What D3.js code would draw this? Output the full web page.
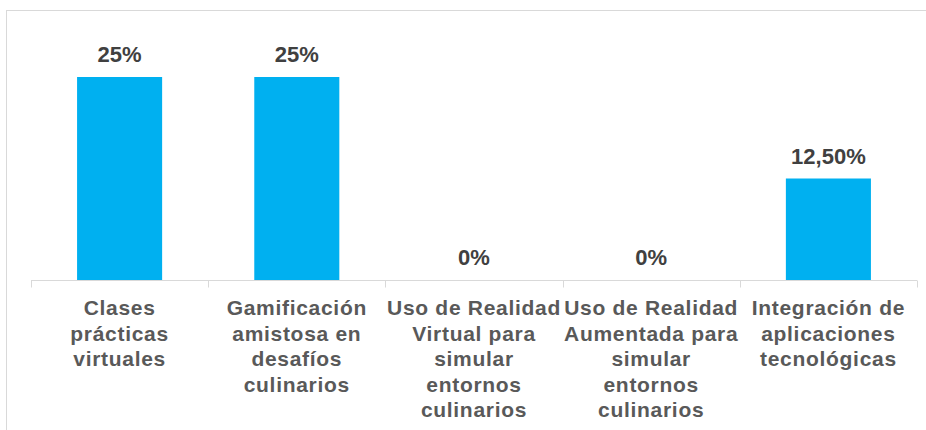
<!DOCTYPE html>
<html><head><meta charset="utf-8">
<script src="https://cdn.jsdelivr.net/npm/d3@7"></script>
<style>html,body{margin:0;padding:0;background:#fff;}svg{display:block;}</style>
</head><body>
<svg id="chart" width="926" height="430"></svg>
<script>
const categories = [
  ["Clases", "prácticas", "virtuales"],
  ["Gamificación", "amistosa en", "desafíos", "culinarios"],
  ["Uso de Realidad", "Virtual para", "simular", "entornos", "culinarios"],
  ["Uso de Realidad", "Aumentada para", "simular", "entornos", "culinarios"],
  ["Integración de", "aplicaciones", "tecnológicas"]
];
const values = [25, 25, 0, 0, 12.5];
const valueLabels = ["25%", "25%", "0%", "0%", "12,50%"];

const svg = d3.select("#chart");
const font = "'Liberation Sans', Arial, sans-serif";

// frame
svg.append("rect").attr("x", 6.5).attr("y", 10.5).attr("width", 940).attr("height", 440)
  .attr("fill", "none").attr("stroke", "#d9d9d9").attr("stroke-width", 1);

const x = d3.scaleBand().domain(d3.range(categories.length)).range([31, 917]).paddingInner(0).paddingOuter(0);
const y = d3.scaleLinear().domain([0, 25]).range([280, 77]);
const barW = x.bandwidth() * 0.48;

svg.selectAll("rect.bar").data(values).join("rect").attr("class", "bar")
  .attr("x", (d, i) => x(i) + (x.bandwidth() - barW) / 2)
  .attr("y", d => y(d))
  .attr("width", barW)
  .attr("height", d => y(0) - y(d))
  .attr("fill", "#00B0F0");

svg.selectAll("text.val").data(values).join("text").attr("class", "val")
  .attr("x", (d, i) => x(i) + x.bandwidth() / 2)
  .attr("y", d => y(d) - 15)
  .attr("text-anchor", "middle")
  .attr("font-family", font).attr("font-weight", "bold").attr("font-size", 22)
  .attr("fill", "#404040")
  .text((d, i) => valueLabels[i]);

// axis
const axis = d3.axisBottom(x).tickSize(0).tickFormat("");
const g = svg.append("g").attr("transform", "translate(0,280.5)").call(axis);
g.select(".domain").attr("stroke", "#d9d9d9").attr("d", "M31,0H917");
const edges = d3.range(categories.length + 1).map(i => i < categories.length ? x(i) : x(i - 1) + x.bandwidth());
g.selectAll("line.edge").data(edges).join("line").attr("class", "edge")
  .attr("x1", d => Math.round(d) + 0.5).attr("x2", d => Math.round(d) + 0.5)
  .attr("y1", 0).attr("y2", 7).attr("stroke", "#d9d9d9");

// category labels
svg.selectAll("text.cat").data(categories).join("text").attr("class", "cat")
  .attr("text-anchor", "middle")
  .attr("font-family", font).attr("font-weight", "bold").attr("font-size", 21)
  .attr("letter-spacing", 0.7)
  .attr("fill", "#595959")
  .each(function(lines, i) {
    const t = d3.select(this);
    lines.forEach((ln, j) => {
      t.append("tspan").attr("x", x(i) + x.bandwidth() / 2).attr("y", 315 + j * 25.5).text(ln);
    });
  });
</script>
</body></html>
